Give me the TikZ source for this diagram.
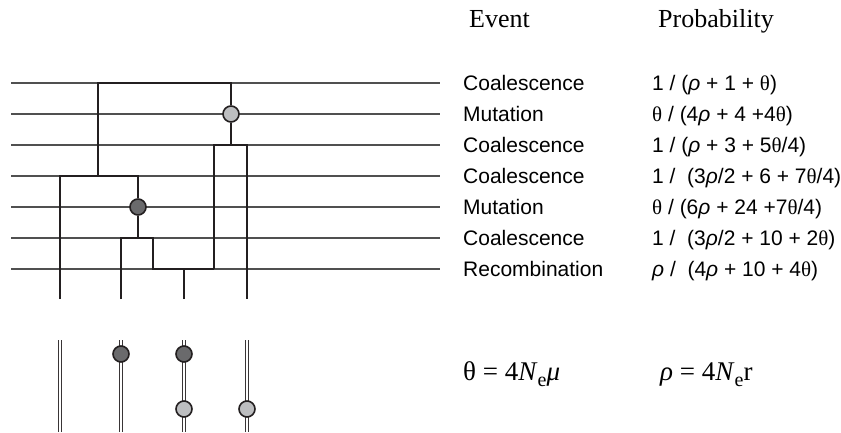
\documentclass[tikz,border=0pt]{standalone}
\usepackage{fontspec}
\setmainfont{Liberation Serif}
\setsansfont{Liberation Sans}
\newfontfamily\serif{Liberation Serif}
\usetikzlibrary{positioning}
\definecolor{ink}{HTML}{231F20}
\definecolor{rule}{HTML}{505050}
\definecolor{mutdark}{HTML}{6A6A6C}
\definecolor{mutlight}{HTML}{BDBEC0}
\newcommand{\vth}{{\serif θ}}
\newcommand{\vrh}{{\itshape ρ}}

\begin{document}
\begin{tikzpicture}[x=1pt, y=-1pt,
  level/.style={draw=rule, line width=1.3pt},
  lin/.style={draw=ink, line width=2.6pt},
  dbl/.style={draw=ink!90, line width=0.9pt, double=white, double distance=2pt},
  mut/.style={circle, draw=ink, line width=1.6pt, minimum size=16pt, inner sep=0pt},
  ev/.style={anchor=base west, inner sep=0pt, font=\sffamily\fontsize{21}{24}\selectfont},
  hd/.style={anchor=base west, inner sep=0pt, font=\serif\fontsize{26}{30}\selectfont},
]
\useasboundingbox (0,0) rectangle (841,432);

% time levels
\foreach \y [count=\i] in {83,114,145,176,207,238,269}
  \draw[level] (11,\y) coordinate (a\i) -- (440,\y) coordinate (b\i);

\node[mut, fill=mutlight] (mutA) at (231,114) {};
\node[mut, fill=mutdark] (mutB) at (138,207) {};

\coordinate (t1) at (60,299);
\coordinate (t2) at (121,299);
\coordinate (t3) at (184,299);
\coordinate (t4) at (247,299);

% genealogy
\draw[lin] (98,176) |- (231,83) -- (mutA);
\draw[lin] (mutA) -- (231,145);
\draw[lin] (214,269) |- (247,145) -- (t4);
\draw[lin] (t1) |- (138,176) -- (mutB);
\draw[lin] (mutB) -- (138,238);
\draw[lin] (t2) |- (153,238) |- (214,269);
\draw[lin] (t3) -- (184,269);

% sampled sequences
\foreach \x [count=\i] in {60,121,184,247}
  \draw[dbl] (\x,340) coordinate (s\i) -- (\x,432);
\node[mut, fill=mutdark] (c2a) at (121,354) {};
\node[mut, fill=mutdark] (c3a) at (184,354) {};
\node[mut, fill=mutlight] (c3b) at (184,409) {};
\node[mut, fill=mutlight] (c4b) at (247,409) {};

\node[hd] (hEvent) at (469,27) {Event};
\node[hd] (hProb) at (658,27) {Probability};

\node[ev] (ev1) at (463,90.5) {Coalescence};
\node[ev] (ev2) at (463,121.5) {Mutation};
\node[ev] (ev3) at (463,152.5) {Coalescence};
\node[ev] (ev4) at (463,183.5) {Coalescence};
\node[ev] (ev5) at (463,214.5) {Mutation};
\node[ev] (ev6) at (463,245.5) {Coalescence};
\node[ev] (ev7) at (463,276.5) {Recombination};

\node[ev] (pr1) at (652,90.5) {1 / (\vrh{} + 1 + \vth)};
\node[ev] (pr2) at (652,121.5) {\vth{} / (4\vrh{} + 4 +4\vth)};
\node[ev] (pr3) at (652,152.5) {1 / (\vrh{} + 3 + 5\vth/4)};
\node[ev] (pr4) at (652,183.5) {1 /\ \ (3\vrh/2 + 6 + 7\vth/4)};
\node[ev] (pr5) at (652,214.5) {\vth{} / (6\vrh{} + 24 +7\vth/4)};
\node[ev] (pr6) at (652,245.5) {1 /\ \ (3\vrh/2 + 10 + 2\vth)};
\node[ev] (pr7) at (652,276.5) {\vrh{} /\ \ (4\vrh{} + 10 + 4\vth)};

\node[hd, font=\serif\fontsize{27}{30}\selectfont] (eqTheta) at (463,380)
  {θ = 4\textit{N}\raisebox{-0.25em}{\fontsize{20}{22}\selectfont e}\textit{μ}};
\node[hd, font=\serif\fontsize{27}{30}\selectfont] (eqRho) at (660,380)
  {\textit{ρ} = 4\textit{N}\raisebox{-0.25em}{\fontsize{20}{22}\selectfont e}r};
\end{tikzpicture}
\end{document}
